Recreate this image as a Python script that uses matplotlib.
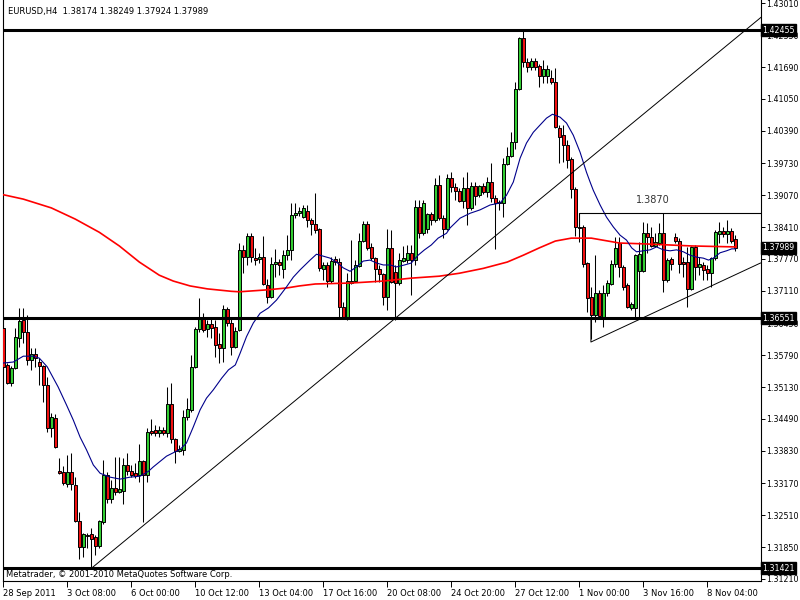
import numpy as np
import matplotlib
matplotlib.use("Agg")
import matplotlib.pyplot as plt
import matplotlib.transforms as mtransforms

# EURUSD H4 candles (bar 0 = 28 Sep 2011 16:00)
opens = [
    1.3635, 1.3559, 1.3522, 1.3553, 1.3615, 1.3651, 1.3626, 1.3569, 1.3581, 1.3565,
    1.3557, 1.3518, 1.3430, 1.3450, 1.3341, 1.3339, 1.3315, 1.3339, 1.3313, 1.3239,
    1.3186, 1.3210, 1.3212, 1.3206, 1.3188, 1.3237, 1.3333, 1.3284, 1.3307, 1.3299,
    1.3301, 1.3354, 1.3341, 1.3337, 1.3333, 1.3362, 1.3333, 1.3424, 1.3426, 1.3420,
    1.3426, 1.3420, 1.3479, 1.3407, 1.3382, 1.3385, 1.3452, 1.3467, 1.3555, 1.3633,
    1.3654, 1.3633, 1.3643, 1.3637, 1.3602, 1.3594, 1.3674, 1.3645, 1.3596, 1.3631,
    1.3795, 1.3781, 1.3823, 1.3779, 1.3777, 1.3781, 1.3723, 1.3698, 1.3766, 1.3770,
    1.3756, 1.3785, 1.3795, 1.3866, 1.3870, 1.3862, 1.3874, 1.3856, 1.3848, 1.3838,
    1.3755, 1.3764, 1.3731, 1.3776, 1.3770, 1.3678, 1.3657, 1.3727, 1.3731, 1.3762,
    1.3813, 1.3848, 1.3801, 1.3779, 1.3756, 1.3745, 1.3698, 1.3799, 1.3749, 1.3727,
    1.3772, 1.3774, 1.3789, 1.3774, 1.3883, 1.3829, 1.3838, 1.3868, 1.3856, 1.3928,
    1.3860, 1.3838, 1.3942, 1.3924, 1.3915, 1.3895, 1.3921, 1.3881, 1.3926, 1.3907,
    1.3926, 1.3913, 1.3934, 1.3901, 1.3891, 1.3891, 1.3971, 1.3987, 1.4016, 1.4125,
    1.4229, 1.4180, 1.4169, 1.4182, 1.4172, 1.4151, 1.4151, 1.4147, 1.4139, 1.4045,
    1.4030, 1.4010, 1.3981, 1.3920, 1.3842, 1.3842, 1.3768, 1.3698, 1.3662, 1.3706,
    1.3657, 1.3706, 1.3725, 1.3766, 1.3809, 1.3760, 1.3723, 1.3676, 1.3676, 1.3751,
    1.3751, 1.3829, 1.3821, 1.3803, 1.3809, 1.3829, 1.3733, 1.3776, 1.3821, 1.3813,
    1.3770, 1.3770, 1.3715, 1.3801, 1.3760, 1.3764, 1.3756, 1.3747, 1.3778, 1.3827,
    1.3833, 1.3827, 1.3833, 1.38174,
]
highs = [
    1.3641, 1.3563, 1.3557, 1.3635, 1.3676, 1.3676, 1.3662, 1.3594, 1.3594, 1.3573,
    1.3559, 1.3534, 1.3460, 1.3458, 1.3368, 1.3352, 1.3374, 1.3378, 1.3329, 1.3257,
    1.3214, 1.3214, 1.3225, 1.3210, 1.3241, 1.3364, 1.3339, 1.3323, 1.3370, 1.3370,
    1.3368, 1.3378, 1.3354, 1.3358, 1.3397, 1.3364, 1.3430, 1.3448, 1.3436, 1.3434,
    1.3432, 1.3514, 1.3522, 1.3409, 1.3395, 1.3467, 1.3491, 1.3580, 1.3637, 1.3697,
    1.3665, 1.3651, 1.3655, 1.3651, 1.3624, 1.3682, 1.3678, 1.3657, 1.3637, 1.3809,
    1.3805, 1.3829, 1.3829, 1.3799, 1.3789, 1.3823, 1.3735, 1.3781, 1.3797, 1.3776,
    1.3795, 1.3825, 1.3891, 1.3891, 1.3883, 1.3887, 1.3887, 1.3860, 1.3911, 1.3840,
    1.3770, 1.3770, 1.3781, 1.3782, 1.3779, 1.3688, 1.3747, 1.3815, 1.3774, 1.3829,
    1.3854, 1.3854, 1.3809, 1.3781, 1.3764, 1.3747, 1.3838, 1.3836, 1.3764, 1.3789,
    1.3803, 1.3805, 1.3805, 1.3897, 1.3897, 1.3897, 1.3870, 1.3872, 1.3942, 1.3948,
    1.3866, 1.3950, 1.3954, 1.3932, 1.3921, 1.3944, 1.3954, 1.3934, 1.3934, 1.3928,
    1.3932, 1.3944, 1.3973, 1.3907, 1.3897, 1.3983, 1.4006, 1.4036, 1.4139, 1.4231,
    1.4245, 1.4188, 1.4188, 1.4188, 1.4176, 1.4184, 1.4174, 1.4164, 1.4168, 1.4051,
    1.4051, 1.4020, 1.3985, 1.3924, 1.3846, 1.3846, 1.3770, 1.3719, 1.3784, 1.3713,
    1.3723, 1.3733, 1.3774, 1.3821, 1.3821, 1.3764, 1.3727, 1.3688, 1.3786, 1.3811,
    1.3852, 1.3850, 1.3842, 1.3829, 1.3850, 1.3870, 1.3778, 1.3780, 1.3829, 1.3819,
    1.3780, 1.3801, 1.3803, 1.3805, 1.3780, 1.3770, 1.3764, 1.3780, 1.3836, 1.3852,
    1.3842, 1.3856, 1.3840, 1.38249,
]
lows = [
    1.3549, 1.3520, 1.3516, 1.3551, 1.3596, 1.3604, 1.3559, 1.3549, 1.3555, 1.3518,
    1.3483, 1.3421, 1.3411, 1.3389, 1.3335, 1.3313, 1.3309, 1.3303, 1.3237, 1.3161,
    1.3165, 1.3184, 1.3142, 1.3169, 1.3184, 1.3233, 1.3276, 1.3276, 1.3292, 1.3297,
    1.3274, 1.3333, 1.3329, 1.3327, 1.3319, 1.3237, 1.3319, 1.3416, 1.3414, 1.3411,
    1.3416, 1.3411, 1.3399, 1.3358, 1.3380, 1.3374, 1.3446, 1.3462, 1.3553, 1.3626,
    1.3626, 1.3617, 1.3615, 1.3575, 1.3563, 1.3565, 1.3639, 1.3580, 1.3594, 1.3628,
    1.3747, 1.3764, 1.3770, 1.3764, 1.3768, 1.3723, 1.3686, 1.3696, 1.3739, 1.3743,
    1.3737, 1.3774, 1.3774, 1.3860, 1.3864, 1.3860, 1.3842, 1.3825, 1.3829, 1.3751,
    1.3733, 1.3719, 1.3727, 1.3764, 1.3655, 1.3655, 1.3651, 1.3725, 1.3729, 1.3760,
    1.3811, 1.3795, 1.3774, 1.3729, 1.3729, 1.3682, 1.3672, 1.3727, 1.3651, 1.3723,
    1.3770, 1.3768, 1.3703, 1.3764, 1.3819, 1.3825, 1.3829, 1.3846, 1.3852, 1.3856,
    1.3819, 1.3836, 1.3913, 1.3897, 1.3893, 1.3881, 1.3846, 1.3877, 1.3887, 1.3903,
    1.3909, 1.3903, 1.3893, 1.3797, 1.3877, 1.3862, 1.3969, 1.3985, 1.4002, 1.4123,
    1.4169, 1.4160, 1.4164, 1.4164, 1.4129, 1.4137, 1.4137, 1.4135, 1.4044, 1.3973,
    1.3975, 1.3963, 1.3901, 1.3823, 1.3811, 1.3760, 1.3667, 1.3612, 1.3647, 1.3657,
    1.3637, 1.3700, 1.3723, 1.3760, 1.3739, 1.3713, 1.3676, 1.3672, 1.3655, 1.3653,
    1.3749, 1.3789, 1.3801, 1.3801, 1.3805, 1.3709, 1.3729, 1.3754, 1.3809, 1.3747,
    1.3739, 1.3678, 1.3713, 1.3733, 1.3743, 1.3733, 1.3733, 1.3719, 1.3774, 1.3809,
    1.3821, 1.3809, 1.3809, 1.37924,
]
closes = [
    1.3555, 1.3522, 1.3553, 1.3617, 1.3649, 1.3626, 1.3569, 1.3581, 1.3573, 1.3557,
    1.3518, 1.3430, 1.3452, 1.3391, 1.3337, 1.3317, 1.3339, 1.3315, 1.3239, 1.3186,
    1.3212, 1.3209, 1.3202, 1.3188, 1.3239, 1.3333, 1.3284, 1.3307, 1.3299, 1.3305,
    1.3354, 1.3341, 1.3333, 1.3331, 1.3362, 1.3333, 1.3421, 1.3420, 1.3420, 1.3426,
    1.3420, 1.3479, 1.3407, 1.3382, 1.3386, 1.3452, 1.3469, 1.3555, 1.3633, 1.3654,
    1.3631, 1.3643, 1.3635, 1.3600, 1.3594, 1.3674, 1.3645, 1.3596, 1.3628, 1.3795,
    1.3781, 1.3823, 1.3781, 1.3774, 1.3781, 1.3725, 1.3698, 1.3766, 1.3770, 1.3764,
    1.3785, 1.3795, 1.3866, 1.3870, 1.3874, 1.3881, 1.3856, 1.3848, 1.3836, 1.3757,
    1.3764, 1.3731, 1.3772, 1.3770, 1.3678, 1.3657, 1.3731, 1.3731, 1.3764, 1.3813,
    1.3848, 1.3799, 1.3779, 1.3756, 1.3745, 1.3698, 1.3799, 1.3729, 1.3727, 1.3774,
    1.3779, 1.3789, 1.3774, 1.3883, 1.3829, 1.3891, 1.3868, 1.3856, 1.3928, 1.3860,
    1.3838, 1.3942, 1.3924, 1.3915, 1.3895, 1.3921, 1.3881, 1.3926, 1.3905, 1.3926,
    1.3913, 1.3934, 1.3901, 1.3891, 1.3893, 1.3971, 1.3987, 1.4016, 1.4125, 1.4229,
    1.4180, 1.4169, 1.4182, 1.4169, 1.4151, 1.4166, 1.4166, 1.4139, 1.4046, 1.4026,
    1.4010, 1.3979, 1.3920, 1.3842, 1.3840, 1.3766, 1.3696, 1.3662, 1.3706, 1.3659,
    1.3706, 1.3727, 1.3766, 1.3799, 1.3760, 1.3719, 1.3678, 1.3684, 1.3784, 1.3786,
    1.3829, 1.3821, 1.3803, 1.3811, 1.3829, 1.3733, 1.3774, 1.3766, 1.3813, 1.3766,
    1.3766, 1.3715, 1.3801, 1.3760, 1.3766, 1.3754, 1.3747, 1.3778, 1.3831, 1.3833,
    1.3827, 1.3833, 1.3813, 1.37989,
]

# moving averages
ma_fast_bars = [0, 2.5, 5, 7.5, 9, 11, 13.7, 15.8, 17.5, 19.2, 20.8, 22.5, 24.2, 26.7,
                29.2, 31.7, 34.2, 36.3, 37.5, 40.8, 44.2, 45.8, 47.5, 49.2, 50.8, 52.5,
                54.6, 56.3, 58, 59.2, 60.8, 62.5, 64.2, 66.3, 68.3, 70.8, 72.5, 74.2,
                76.7, 78.3, 80, 81.7, 83.3, 85, 86.7, 88.3, 90, 91.7, 93.3, 95, 96.7,
                98.3, 100.3, 102, 103.7, 105.3, 107, 108.7, 110.8, 111.7, 114.2, 116.7,
                119.2, 121.7, 124.2, 125.8, 127.5, 129.2, 130.8, 132.5, 134.2, 135.8,
                137.3, 139.2, 140.8, 142.5, 144.2, 145.8, 146.7, 147.5, 149.2, 150.8,
                152.5, 154.2, 155.8, 157.1, 158.3, 160, 161.7, 163.3, 165, 166.7, 168.3,
                170, 171.7, 173.3, 175, 176.3, 177.5, 179.2, 180.8, 182.1, 183]
ma_fast = [1.3563, 1.3565, 1.3577, 1.3577, 1.3573, 1.3555, 1.3514, 1.3477, 1.3446, 1.3411,
           1.3385, 1.3354, 1.3337, 1.3329, 1.3325, 1.3329, 1.3331, 1.3341, 1.3350, 1.3372,
           1.3386, 1.3399, 1.3432, 1.3467, 1.3491, 1.3508, 1.3532, 1.3549, 1.3559, 1.3583,
           1.3617, 1.3645, 1.3665, 1.3676, 1.3692, 1.3719, 1.3739, 1.3754, 1.3774, 1.3786,
           1.3782, 1.3778, 1.3770, 1.3758, 1.3751, 1.3760, 1.3772, 1.3774, 1.3768, 1.3764,
           1.3764, 1.3760, 1.3764, 1.3768, 1.3784, 1.3795, 1.3805, 1.3819, 1.3829, 1.3840,
           1.3860, 1.3870, 1.3877, 1.3887, 1.3891, 1.3907, 1.3934, 1.3983, 1.4014, 1.4036,
           1.4051, 1.4065, 1.4073, 1.4067, 1.4055, 1.4030, 1.3995, 1.3954, 1.3934, 1.3917,
           1.3887, 1.3862, 1.3842, 1.3825, 1.3815, 1.3799, 1.3791, 1.3793, 1.3795, 1.3801,
           1.3795, 1.3793, 1.3795, 1.3791, 1.3784, 1.3780, 1.3778, 1.3774, 1.3778, 1.3789,
           1.3793, 1.3797, 1.3797]

ma_slow_bars = [0, 5, 12, 18, 24, 29, 34, 39, 42.5, 46.7, 51, 57, 59, 66, 71, 74, 78, 87,
                95, 102, 109, 114, 120, 126, 130, 134, 138, 142, 147, 154, 161, 172, 183]
ma_slow = [1.3908, 1.3899, 1.3881, 1.3858, 1.3831, 1.3803, 1.3770, 1.3743, 1.3731, 1.3721,
           1.3715, 1.3710, 1.3709, 1.3713, 1.3717, 1.3721, 1.3725, 1.3727, 1.3731, 1.3737,
           1.3741, 1.3747, 1.3757, 1.3770, 1.3784, 1.3799, 1.3813, 1.3819, 1.3819, 1.3809,
           1.3807, 1.3803, 1.3801]

# drawn objects
h_levels = [1.42455, 1.36551, 1.31421]
trend_up_bars = [22, 200]
trend_up_prices = [1.3142, 1.4343]
tri_low_bars = [146.9, 146.9, 189.3]
tri_low_prices = [1.36551, 1.3606, 1.3768]
res_bars = [144, 144, 200]
res_prices = [1.3846, 1.3870, 1.3870]
res_label = "1.3870"
res_label_pos = (162.4, 1.3897)

SYMBOL_NAME = "EURUSD,H4"
time_label_bars = [0, 16, 32, 48, 64, 80, 96, 112, 128, 144, 160, 176]
time_labels = ["28 Sep 2011", "3 Oct 08:00", "6 Oct 00:00", "10 Oct 12:00",
               "13 Oct 04:00", "17 Oct 16:00", "20 Oct 08:00", "24 Oct 20:00",
               "27 Oct 12:00", "1 Nov 00:00", "3 Nov 16:00", "8 Nov 04:00"]
price_ticks = [1.43010, 1.42350, 1.41690, 1.41050, 1.40390, 1.39730, 1.39070,
               1.38410, 1.37770, 1.37110, 1.36450, 1.35790, 1.35130, 1.34490,
               1.33830, 1.33170, 1.32510, 1.31850, 1.31210]

GREEN = "#32CD32"
RED = "#F01010"
FONT = "DejaVu Sans"


def main():
    plt.rcParams["font.family"] = FONT
    fig = plt.figure(figsize=(8, 6), dpi=100)
    ax = fig.add_axes([3 / 800, 19 / 600, 757.5 / 800, 581 / 600])

    o = np.array(opens)
    h = np.array(highs)
    l = np.array(lows)
    c = np.array(closes)
    x = np.arange(len(c))

    # candles
    ax.vlines(x, l, h, color="black", linewidth=0.75, zorder=2)
    body_low = np.minimum(o, c)
    body_h = np.maximum(np.abs(c - o), 0.00003)
    colors = np.where(c >= o, GREEN, RED)
    ax.bar(x, body_h, bottom=body_low, width=0.75, color=colors,
           edgecolor="black", linewidth=0.7, zorder=3)

    # indicators
    ax.plot(ma_slow_bars, ma_slow, color="#FF0000", linewidth=1.2, zorder=4)
    ax.plot(ma_fast_bars, ma_fast, color="#00008B", linewidth=0.8, zorder=4)

    # objects
    for lvl in h_levels:
        ax.axhline(lvl, color="black", linewidth=2.2, zorder=5)
    ax.plot(trend_up_bars, trend_up_prices, color="black", linewidth=0.7, zorder=5)
    ax.plot(tri_low_bars, tri_low_prices, color="black", linewidth=0.7, zorder=5)
    ax.plot(res_bars, res_prices, color="black", linewidth=0.8, zorder=5)
    ax.text(res_label_pos[0], res_label_pos[1], res_label, ha="center", va="center",
            fontsize=7, color="#333333", zorder=6)

    ax.set_xlim(-0.075, 189.3)
    ax.set_ylim(1.31161, 1.43072)

    # axes look like MetaTrader
    ax.spines["top"].set_visible(False)
    for s in ("left", "right", "bottom"):
        ax.spines[s].set_linewidth(0.8)
    ax.yaxis.tick_right()
    ax.set_yticks(price_ticks)
    ax.set_yticklabels([f"{p:.5f}" for p in price_ticks])
    ax.tick_params(axis="y", direction="out", length=3, pad=1, labelsize=5.7, width=0.7)
    ax.set_xticks(time_label_bars)
    ax.set_xticklabels(time_labels, ha="left")
    ax.tick_params(axis="x", direction="out", length=4, pad=1.5, labelsize=6, width=0.7)

    # price tags on the right axis
    trans = mtransforms.blended_transform_factory(ax.transAxes, ax.transData)
    for lvl in h_levels + [closes[-1]]:
        ax.text(1.0022, lvl, f"{lvl:.5f}", transform=trans, ha="left", va="center",
                fontsize=5.7, color="white", clip_on=False, zorder=10,
                bbox=dict(facecolor="black", edgecolor="black", pad=1.0))

    ax.text(0.0066, 0.981,
            f"{SYMBOL_NAME}  {opens[-1]:.5f} {highs[-1]:.5f} {lows[-1]:.5f} {closes[-1]:.5f}",
            transform=ax.transAxes, ha="left", va="center", fontsize=6, color="black")
    ax.text(0.004, 0.012, "Metatrader, \u00a9 2001-2010 MetaQuotes Software Corp.",
            transform=ax.transAxes, ha="left", va="center", fontsize=6, color="black",
            zorder=7)

    fig.savefig("out.png", dpi=100)


if __name__ == "__main__":
    main()
